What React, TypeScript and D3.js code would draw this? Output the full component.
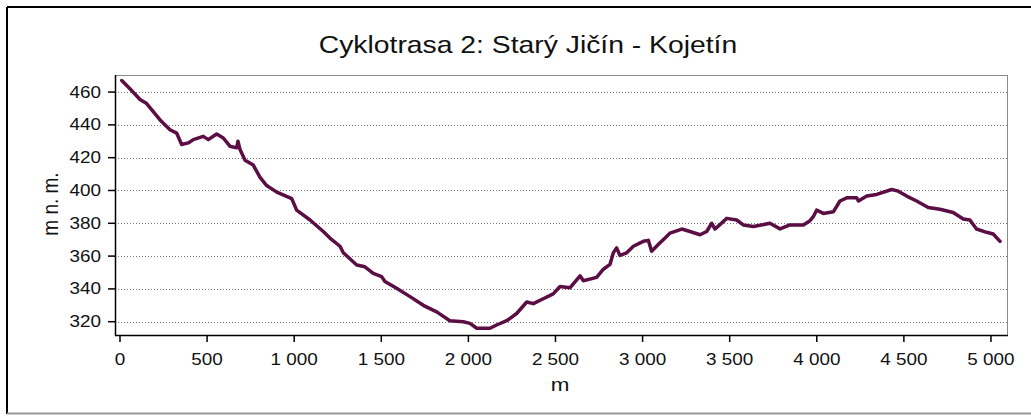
import React from "react";
import * as d3 from "d3";

// route profile
const distance = [
  10, 57, 115, 153, 230, 287, 325, 354, 392, 421, 478, 507, 555, 593, 631, 670, 677, 689, 718, 765,
  804, 842, 900, 986, 1014, 1091, 1167, 1205, 1263, 1282, 1359, 1406, 1454, 1502, 1521, 1588, 1665,
  1741, 1818, 1894, 1971, 2009, 2048, 2124, 2162, 2220, 2277, 2335, 2373, 2430, 2487, 2526, 2583,
  2641, 2660, 2736, 2775, 2813, 2832, 2851, 2870, 2909, 2947, 3004, 3033, 3052, 3090, 3138, 3157,
  3225, 3272, 3330, 3368, 3397, 3416, 3463, 3483, 3540, 3578, 3636, 3731, 3789, 3846, 3923, 3961,
  3980, 3999, 4038, 4095, 4133, 4172, 4229, 4239, 4287, 4344, 4430, 4468, 4516, 4573, 4640, 4707,
  4783, 4841, 4879, 4917, 4975, 5013, 5052,
];
const elevation = [
  467, 462, 455.5, 453, 443, 437, 435, 428, 429, 431, 433, 431, 434.4, 432, 427, 426, 430, 425,
  418.5, 415.5, 408, 403, 399, 395, 388, 382, 375, 371, 366, 362, 354.6, 353.5, 349.5, 347.5, 344.5,
  340.4, 335.3, 330, 326, 320.6, 320, 319, 316, 316, 318, 320.6, 325, 332, 331, 334, 337, 341.5,
  340.7, 348, 345, 347, 352, 355, 362, 365, 360.4, 362, 366, 369, 369.6, 363, 367, 372, 374, 376.5,
  375, 373, 375, 380, 376.5, 381, 383, 382, 379, 378, 380, 376.6, 379, 379, 381.6, 384, 388, 386,
  387, 393.6, 395.5, 395.5, 393.6, 396.6, 397.6, 400.6, 399.6, 396.6, 393.6, 389.6, 388.6, 386.6,
  382.6, 382, 376.5, 374.5, 373.5, 369,
];
const xTicks = [0, 500, 1000, 1500, 2000, 2500, 3000, 3500, 4000, 4500, 5000];
const yTicks = [320, 340, 360, 380, 400, 420, 440, 460];

const title = "Cyklotrasa 2: Starý Jičín - Kojetín";
const xLabel = "m";
const yLabel = "m n. m.";

const W = 1031;
const H = 416;
const left = 115;
const right = 1007;
const top = 75;
const bottom = 335;
const stretch = 1.18;
const font = "'Liberation Sans', Arial, sans-serif";

const fmt = (v: number) => d3.format(",")(v).replace(/,/g, " ");

const Txt = ({ x, y, size, anchor = "middle", children }: any) => (
  <g transform={`translate(${x},${y}) scale(${stretch},1)`}>
    <text fontFamily={font} fontSize={size} textAnchor={anchor} fill="#111">
      {children}
    </text>
  </g>
);

export default function App() {
  const x = d3.scaleLinear().domain([-28.7, 5092]).range([left, right]);
  const y = d3.scaleLinear().domain([311.9, 470.4]).range([bottom, top]);

  const points = distance.map((d, i) => [d, elevation[i]] as [number, number]);
  const line = d3
    .line<[number, number]>()
    .x((d) => x(d[0]))
    .y((d) => y(d[1]));

  return (
    <svg
      width={W}
      height={H}
      style={{ position: "absolute", left: 0, top: 0, background: "#fff" }}
    >
      {/* outer frame */}
      <line x1={7} y1={7} x2={W} y2={7} stroke="#000" strokeWidth={2} />
      <line x1={7} y1={7} x2={7} y2={414} stroke="#000" strokeWidth={2} />
      <line x1={7} y1={413.5} x2={W} y2={413.5} stroke="#9a9a9a" strokeWidth={2} />

      <Txt x={528} y={53} size={24}>
        {title}
      </Txt>

      {/* grid */}
      {yTicks.map((t) => (
        <line
          key={t}
          x1={left}
          x2={right}
          y1={Math.round(y(t)) + 0.5}
          y2={Math.round(y(t)) + 0.5}
          stroke="#7a7a7a"
          strokeDasharray="1,2"
        />
      ))}

      {/* plot border */}
      <rect
        x={left + 0.5}
        y={top + 0.5}
        width={right - left}
        height={bottom - top}
        fill="none"
        stroke="#8a8a8a"
      />
      <line x1={left + 0.5} x2={left + 0.5} y1={top} y2={bottom + 1} stroke="#000" strokeWidth={1.5} />
      <line x1={left} x2={right + 1} y1={bottom + 0.5} y2={bottom + 0.5} stroke="#000" strokeWidth={1.5} />

      <path
        d={line(points) || ""}
        fill="none"
        stroke="#5a0e44"
        strokeWidth={3.5}
        strokeLinejoin="round"
        strokeLinecap="round"
      />

      {/* y axis */}
      {yTicks.map((t) => (
        <g key={t}>
          <line x1={108} x2={left} y1={y(t)} y2={y(t)} stroke="#000" strokeWidth={1.5} />
          <Txt x={101} y={y(t) + 5.5} size={16} anchor="end">
            {t}
          </Txt>
        </g>
      ))}

      {/* x axis */}
      {xTicks.map((t) => (
        <g key={t}>
          <line x1={x(t)} x2={x(t)} y1={bottom} y2={bottom + 7} stroke="#000" strokeWidth={1.5} />
          <Txt x={x(t)} y={365} size={16}>
            {fmt(t)}
          </Txt>
        </g>
      ))}

      <Txt x={560} y={391} size={19}>
        {xLabel}
      </Txt>
      <g transform="translate(58,204) rotate(-90) scale(1,1.18)">
        <text fontFamily={font} fontSize={19} textAnchor="middle" fill="#111">
          {yLabel}
        </text>
      </g>
    </svg>
  );
}
